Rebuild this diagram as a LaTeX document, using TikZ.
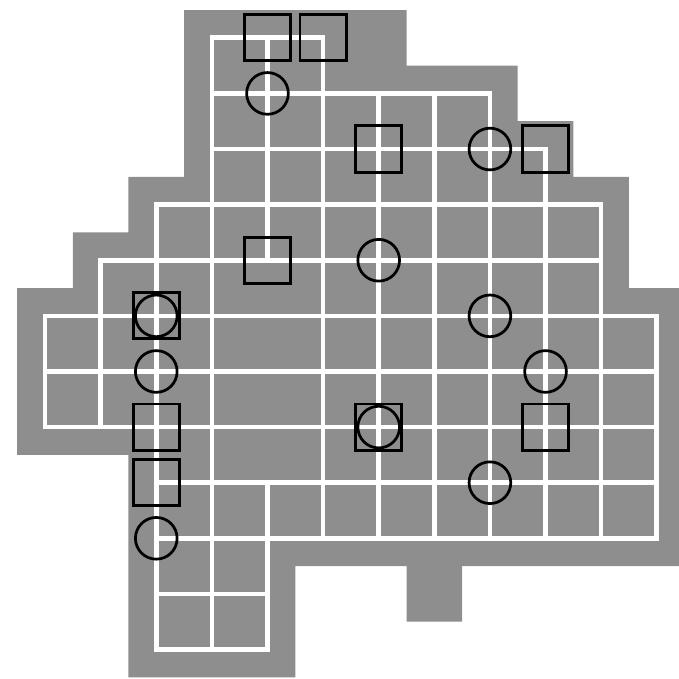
\documentclass[tikz,border=0pt]{standalone}
\definecolor{stipple}{RGB}{142,142,142}

\begin{document}
\begin{tikzpicture}[x=1cm, y=-1cm,
    lane/.style={white, line width=2.4pt, line cap=rect},
    stone/.style={draw, line width=1.5pt, inner sep=0pt, minimum size=0.83cm},
    ring/.style={draw, circle, line width=1.4pt, inner sep=0pt, minimum size=0.75cm}]
  \useasboundingbox (-0.81,-0.68) rectangle (11.39,11.53);
  % shaded ground
  \fill[stipple] (2.5,-0.5) -| (6.5,0.5) -| (8.5,1.5) -| (9.5,2.5) -| (10.5,4.5)
    -| (11.5,9.5) -| (7.5,10.5) -| (6.5,9.5) -| (4.5,11.5) -| (1.5,7.5)
    -| (-0.5,4.5) -| (0.5,3.5) -| (1.5,2.5) -| (2.5,-0.5) -- cycle;
  % white lines, rows then columns
  \foreach \j/\a/\b in {0/3/5, 1/3/8, 2/3/9, 3/2/10, 4/1/10, 5/0/11, 6/0/11,
      7/0/11, 8/2/11, 9/2/11, 10/2/4, 11/2/4}
    \draw[lane] (\a,\j) -- (\b,\j);
  \foreach \i/\a/\b in {0/5/7, 1/4/7, 2/3/11, 3/0/11, 4/0/4, 4/8/11, 5/0/9,
      6/1/9, 7/1/9, 8/1/9, 9/2/9, 10/3/9, 11/5/9}
    \draw[lane] (\i,\a) -- (\i,\b);
  % squares and circles
  \foreach \i/\j [count=\n] in {4/0, 5/0, 6/2, 9/2, 4/4, 2/5, 2/7, 2/8, 6/7, 9/7}
    \node[stone] (sq\n) at (\i,\j) {};
  \foreach \i/\j [count=\n] in {4/1, 8/2, 6/4, 8/5, 2/5, 2/6, 9/6, 6/7, 8/8, 2/9}
    \node[ring] (ci\n) at (\i,\j) {};
\end{tikzpicture}
\end{document}
